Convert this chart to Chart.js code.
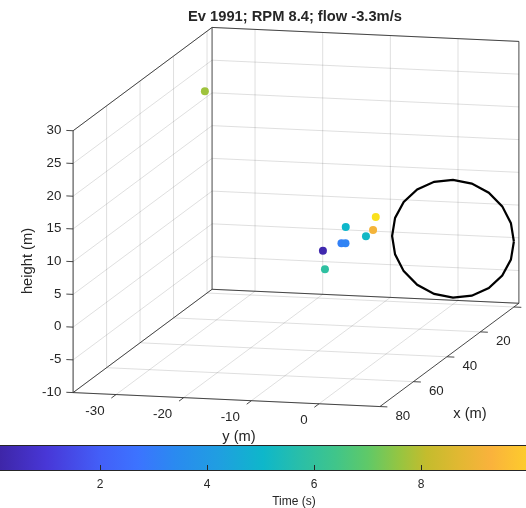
<!DOCTYPE html>
<html>
<head>
<meta charset="utf-8">
<script src="https://cdn.jsdelivr.net/npm/chart.js@4.4.1/dist/chart.umd.min.js"></script>
<style>
  html, body { margin: 0; padding: 0; background: #fff; }
  canvas { display: block; }
</style>
</head>
<body>
<canvas id="chart" width="526" height="508"></canvas>
<script>
// -------------------------------
// Daten
// -------------------------------
const titleText = "Ev 1991; RPM 8.4; flow -3.3m/s";

const xLim = [-3, 80];
const yLim = [-36.35, 9];
const zLim = [-10, 30];

const xTicks = [0, 20, 40, 60, 80];
const yTicks = [-30, -20, -10, 0];
const zTicks = [-10, -5, 0, 5, 10, 15, 20, 25, 30];

const timeLim = [0.13, 9.96];
const timeTicks = [2, 4, 6, 8];

// Positionen (m) und Zeit (s)
const ptX = [1.5, 30, 25, 25, 30, 20, 15, 15, 15];
const ptY = [-36.3, -11.8, -10.3, -9.7, -11.5, -10.9, -9.15, -8.1, -7.7];
const ptZ = [21.1, 3.3, 3.6, 3.6, 0.5, 5.1, 2.8, 3.8, 5.8];
const ptTime = [7.7, 0.25, 3.1, 3.2, 5.9, 5.05, 5.15, 9.15, 10.4];

// Rotor
const rotorCenter = [0, 0, 0];
const rotorRadius = 9;
const rotorSegments = 20;

// -------------------------------
// Farbskala (parula-artig)
// -------------------------------
const cmapT = [0.13, 1.0, 2.0, 2.7, 3.4, 4.2, 5.05, 5.7, 6.4, 7.0, 7.6, 8.1, 8.7, 9.3, 9.96, 10.6];
const cmapRGB = [
    [62, 38, 168], [72, 55, 215], [67, 95, 248], [60, 115, 255], [42, 138, 240],
    [32, 158, 225], [14, 183, 202], [40, 190, 170], [64, 197, 138], [95, 201, 104],
    [150, 197, 65], [196, 188, 45], [225, 184, 50], [250, 178, 60], [253, 203, 45],
    [249, 235, 22]
];

function colorAt(t) {
    if (t <= cmapT[0]) return `rgb(${cmapRGB[0].join(",")})`;
    for (let i = 1; i < cmapT.length; i++) {
        if (t <= cmapT[i]) {
            const f = (t - cmapT[i - 1]) / (cmapT[i] - cmapT[i - 1]);
            const c = cmapRGB[i - 1].map((v, k) => Math.round(v + f * (cmapRGB[i][k] - v)));
            return `rgb(${c.join(",")})`;
        }
    }
    return `rgb(${cmapRGB[cmapRGB.length - 1].join(",")})`;
}

// -------------------------------
// 3D Projektion (orthografisch, view az/el)
// -------------------------------
const viewAz = 103.9, viewEl = 10.6;
const unitScale = [6.97, 6.97, 6.66];
const boxCenter = [(xLim[0] + xLim[1]) / 2, (yLim[0] + yLim[1]) / 2, (zLim[0] + zLim[1]) / 2];

function project(x, y, z) {
    const az = viewAz * Math.PI / 180, el = viewEl * Math.PI / 180;
    const X = (x - boxCenter[0]) * unitScale[0];
    const Y = (y - boxCenter[1]) * unitScale[1];
    const Z = (z - boxCenter[2]) * unitScale[2];
    return {
        x: X * Math.cos(az) + Y * Math.sin(az),
        y: -X * Math.sin(el) * Math.sin(az) + Y * Math.sin(el) * Math.cos(az) + Z * Math.cos(el)
    };
}

function segs(list) {
    const out = [];
    list.forEach(s => {
        s.forEach(p => out.push(project(p[0], p[1], p[2])));
        out.push({ x: null, y: null });
    });
    return out;
}

const [x0, x1] = xLim, [y0, y1] = yLim, [z0, z1] = zLim;

// Gitter
const gridList = [];
yTicks.forEach(y => {
    gridList.push([[x0, y, z0], [x0, y, z1]]);
    gridList.push([[x0, y, z0], [x1, y, z0]]);
});
zTicks.forEach(z => {
    gridList.push([[x0, y0, z], [x0, y1, z]]);
    gridList.push([[x0, y0, z], [x1, y0, z]]);
});
xTicks.forEach(x => {
    gridList.push([[x, y0, z0], [x, y0, z1]]);
    gridList.push([[x, y0, z0], [x, y1, z0]]);
});

// Achsen / Box (hintere Flächen)
const edgeList = [
    [[x1, y0, z0], [x1, y0, z1]],
    [[x1, y0, z1], [x0, y0, z1]],
    [[x0, y0, z1], [x0, y1, z1]],
    [[x0, y0, z0], [x0, y0, z1]],
    [[x0, y1, z0], [x0, y1, z1]],
    [[x0, y0, z0], [x0, y1, z0]],
    [[x0, y0, z0], [x1, y0, z0]],
    [[x1, y0, z0], [x1, y1, z0]],
    [[x1, y1, z0], [x0, y1, z0]]
];
const tickList = [];
zTicks.forEach(z => tickList.push([[x1, y0, z], [x1, y0 - 1.0, z]]));
yTicks.forEach(y => tickList.push([[x1, y, z0], [x1 + 2.8, y, z0]]));
xTicks.forEach(x => tickList.push([[x, y1, z0], [x, y1 + 1.1, z0]]));

// Rotor Umriss
const rotorPts = [];
for (let i = 0; i <= rotorSegments; i++) {
    const a = i / rotorSegments * 2 * Math.PI;
    rotorPts.push(project(rotorCenter[0],
        rotorCenter[1] + rotorRadius * Math.cos(a),
        rotorCenter[2] + rotorRadius * Math.sin(a)));
}

const dotPts = ptX.map((x, i) => project(x, ptY[i], ptZ[i]));
const dotColors = ptTime.map(colorAt);

// -------------------------------
// Texte
// -------------------------------
const FONT = '"Liberation Sans", Arial, sans-serif';
const TXT = "#262626";

const textPlugin = {
    id: "texts",
    afterDraw(chart) {
        const ctx = chart.ctx;
        const sx = chart.scales.x, sy = chart.scales.y, cb = chart.scales.cb;
        const P = (x, y, z) => {
            const p = project(x, y, z);
            return [sx.getPixelForValue(p.x), sy.getPixelForValue(p.y)];
        };
        ctx.save();
        ctx.fillStyle = TXT;

        // Titel
        ctx.font = "bold 14.7px " + FONT;
        ctx.textAlign = "center";
        ctx.textBaseline = "middle";
        ctx.fillText(titleText, 295, 17);

        // z Ticks
        ctx.font = "13.3px " + FONT;
        ctx.textAlign = "right";
        zTicks.forEach(z => {
            const [px, py] = P(x1, y0 - 1.0, z);
            ctx.fillText(String(z), px - 5, py);
        });
        // y Ticks
        yTicks.forEach(y => {
            const [px, py] = P(x1, y, z0);
            ctx.fillText(String(y), px - 11.5, py + 17);
        });
        // x Ticks
        ctx.textAlign = "left";
        xTicks.forEach(x => {
            const [px, py] = P(x, y1, z0);
            ctx.fillText(String(x), px + 15.5, py + 9.5);
        });

        // Achsentitel
        ctx.font = "14.7px " + FONT;
        ctx.textAlign = "center";
        ctx.fillText("x (m)", 470, 414);
        ctx.fillText("y (m)", 239, 437);
        ctx.save();
        ctx.translate(28, 261);
        ctx.rotate(-Math.PI / 2);
        ctx.fillText("height (m)", 0, 0);
        ctx.restore();

        // Colorbar
        const top = 445, bot = 471;
        const l = cb.getPixelForValue(timeLim[0]), r = cb.getPixelForValue(timeLim[1]);
        const grad = ctx.createLinearGradient(l, 0, r, 0);
        cmapT.forEach((t, i) => {
            if (t >= timeLim[0] && t <= timeLim[1]) {
                grad.addColorStop((t - timeLim[0]) / (timeLim[1] - timeLim[0]), colorAt(t));
            }
        });
        grad.addColorStop(1, colorAt(timeLim[1]));
        ctx.fillStyle = grad;
        ctx.fillRect(l, top, r - l, bot - top);
        ctx.strokeStyle = TXT;
        ctx.lineWidth = 1;
        ctx.beginPath();
        ctx.moveTo(l, top + 0.5); ctx.lineTo(r, top + 0.5);
        ctx.moveTo(l, bot - 0.5); ctx.lineTo(r, bot - 0.5);
        timeTicks.forEach(t => {
            const px = Math.round(cb.getPixelForValue(t)) + 0.5;
            ctx.moveTo(px, bot); ctx.lineTo(px, bot - 6);
        });
        ctx.stroke();

        ctx.fillStyle = TXT;
        ctx.font = "12px " + FONT;
        ctx.textAlign = "center";
        timeTicks.forEach(t => ctx.fillText(String(t), cb.getPixelForValue(t), 485));
        ctx.fillText("Time (s)", 294, 502);

        ctx.restore();
    }
};

// -------------------------------
// Chart
// -------------------------------
new Chart(document.getElementById("chart"), {
    type: "scatter",
    data: {
        datasets: [
            {
                data: dotPts,
                pointRadius: 4,
                pointBorderWidth: 0,
                pointBackgroundColor: dotColors,
                showLine: false
            },
            {
                data: rotorPts,
                showLine: true,
                borderColor: "#000",
                borderWidth: 2.2,
                pointRadius: 0
            },
            {
                data: segs(tickList),
                showLine: true,
                spanGaps: false,
                borderColor: "#333",
                borderWidth: 0.9,
                pointRadius: 0
            },
            {
                data: segs(edgeList),
                showLine: true,
                spanGaps: false,
                borderColor: "#333",
                borderWidth: 0.9,
                pointRadius: 0
            },
            {
                data: segs(gridList),
                showLine: true,
                spanGaps: false,
                borderColor: "rgba(38,38,38,0.15)",
                borderWidth: 1,
                pointRadius: 0
            }
        ]
    },
    options: {
        responsive: false,
        animation: false,
        layout: { padding: 0, autoPadding: false },
        plugins: {
            legend: { display: false },
            tooltip: { enabled: false }
        },
        scales: {
            x: { type: "linear", display: false, min: -296, max: 230 },
            y: { type: "linear", display: false, min: -291, max: 217 },
            cb: { type: "linear", axis: "x", display: false, min: timeLim[0], max: timeLim[1] }
        }
    },
    plugins: [textPlugin]
});
</script>
</body>
</html>
